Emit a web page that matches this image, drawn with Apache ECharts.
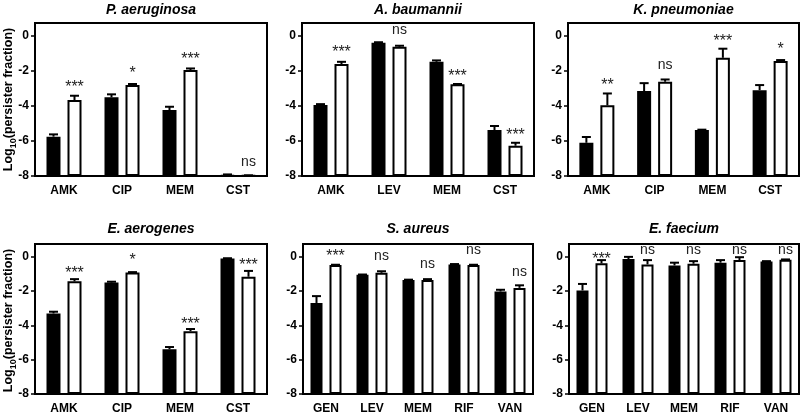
<!DOCTYPE html>
<html><head><meta charset="utf-8">
<script src="https://cdn.jsdelivr.net/npm/echarts@6/dist/echarts.min.js"></script>
<style>html,body{margin:0;padding:0;background:#fff}#c{width:800px;height:415px}</style>
</head><body><div id="c"></div>
<script>
// ---- data (log10 persister fraction; errors are upward SEM) ----
const panelTitles = ['P. aeruginosa', 'A. baumannii', 'K. pneumoniae', 'E. aerogenes', 'S. aureus', 'E. faecium'];
const yTickValues = [-8, -6, -4, -2, 0];

const paCats = ['AMK', 'CIP', 'MEM', 'CST'];
const paBlack = [-5.75, -3.5, -4.23, -7.97];
const paBlackErr = [0.13, 0.17, 0.19, 0.06];
const paWhite = [-3.66, -2.8, -1.94, -7.98];
const paWhiteErr = [0.25, 0.06, 0.09, 0.02];
const paSig = ['***', '*', '***', 'ns'];
const paSigY = [-2.7, -1.94, -1.14, -7.24];

const abCats = ['AMK', 'LEV', 'MEM', 'CST'];
const abBlack = [-3.94, -0.38, -1.47, -5.37];
const abBlackErr = [0.05, 0.03, 0.08, 0.23];
const abWhite = [-1.6, -0.61, -2.76, -6.27];
const abWhiteErr = [0.13, 0.06, 0.02, 0.17];
const abSig = ['***', 'ns', '***', '***'];
const abSigY = [-0.74, 0.29, -2.08, -5.47];

const kpCats = ['AMK', 'CIP', 'MEM', 'CST'];
const kpBlack = [-6.1, -3.14, -5.37, -3.09];
const kpBlackErr = [0.33, 0.45, 0.02, 0.29];
const kpWhite = [-3.96, -2.61, -1.24, -1.43];
const kpWhiteErr = [0.68, 0.13, 0.52, 0.06];
const kpSig = ['**', 'ns', '***', '*'];
const kpSigY = [-2.61, -1.71, -0.1, -0.57];

const eaCats = ['AMK', 'CIP', 'MEM', 'CST'];
const eaBlack = [-3.3, -1.5, -5.39, -0.1];
const eaBlackErr = [0.1, 0.05, 0.13, 0.02];
const eaWhite = [-1.43, -0.91, -4.34, -1.16];
const eaWhiteErr = [0.13, 0.02, 0.13, 0.34];
const eaSig = ['***', '*', '***', '***'];
const eaSigY = [-0.76, 0.0, -3.71, -0.29];

const saCats = ['GEN', 'LEV', 'MEM', 'RIF', 'VAN'];
const saBlack = [-2.69, -1.05, -1.35, -0.44, -2.02];
const saBlackErr = [0.4, 0.02, 0.02, 0.02, 0.1];
const saWhite = [-0.48, -0.93, -1.35, -0.48, -1.81];
const saWhiteErr = [0.02, 0.09, 0.05, 0.02, 0.15];
const saSig = ['***', 'ns', 'ns', 'ns', 'ns'];
const saSigY = [0.27, 0.0, -0.5, 0.32, -0.97];

const efCats = ['GEN', 'LEV', 'MEM', 'RIF', 'VAN'];
const efBlack = [-1.96, -0.13, -0.5, -0.34, -0.27];
const efBlackErr = [0.38, 0.13, 0.16, 0.15, 0.02];
const efWhite = [-0.38, -0.44, -0.4, -0.19, -0.17];
const efWhiteErr = [0.19, 0.25, 0.15, 0.17, 0.02];
const efSig = ['***', 'ns', 'ns', 'ns', 'ns'];
const efSigY = [0.05, 0.35, 0.35, 0.35, 0.35];

// ---- assemble ----
const panels = [
  {cats: paCats, b: paBlack, be: paBlackErr, w: paWhite, we: paWhiteErr, sig: paSig, sigY: paSigY},
  {cats: abCats, b: abBlack, be: abBlackErr, w: abWhite, we: abWhiteErr, sig: abSig, sigY: abSigY},
  {cats: kpCats, b: kpBlack, be: kpBlackErr, w: kpWhite, we: kpWhiteErr, sig: kpSig, sigY: kpSigY},
  {cats: eaCats, b: eaBlack, be: eaBlackErr, w: eaWhite, we: eaWhiteErr, sig: eaSig, sigY: eaSigY},
  {cats: saCats, b: saBlack, be: saBlackErr, w: saWhite, we: saWhiteErr, sig: saSig, sigY: saSigY},
  {cats: efCats, b: efBlack, be: efBlackErr, w: efWhite, we: efWhiteErr, sig: efSig, sigY: efSigY}
];

const BASE = -8;           // axis floor; bars rise from here
const AX_MAX = 0.75;
const FONT = '"Liberation Sans", Arial, Helvetica, sans-serif';
const layouts = [
  {left: 35, top: 23, width: 232, height: 153, bw: 14, gap: 7},
  {left: 302, top: 23, width: 232, height: 153, bw: 14, gap: 7},
  {left: 568, top: 23, width: 231, height: 153, bw: 14, gap: 7},
  {left: 35, top: 244, width: 232, height: 153, bw: 14, gap: 7},
  {left: 303, top: 244, width: 230, height: 153, bw: 12, gap: 7},
  {left: 569, top: 244, width: 230, height: 153, bw: 12, gap: 7}
];

const grid = [], xAxis = [], yAxis = [], series = [], graphic = [];
const off = v => +(v - BASE).toFixed(4);

panels.forEach((p, i) => {
  const L = layouts[i];
  grid.push({left: L.left, top: L.top, width: L.width, height: L.height, show: true,
    borderColor: '#000', borderWidth: 2, backgroundColor: 'transparent', containLabel: false});
  xAxis.push({type: 'category', gridIndex: i, data: p.cats,
    axisLine: {lineStyle: {color: '#000', width: 2}},
    axisTick: {alignWithLabel: true, length: 4, lineStyle: {color: '#000', width: 1.5}},
    axisLabel: {margin: 9, fontSize: 12, fontWeight: 'bold', color: '#000', fontFamily: FONT}});
  yAxis.push({type: 'value', gridIndex: i, min: 0, max: AX_MAX - BASE, interval: 2,
    splitLine: {show: false},
    axisLine: {show: true, lineStyle: {color: '#000', width: 2}},
    axisTick: {show: true, length: 4, lineStyle: {color: '#000', width: 1.5},
      customValues: yTickValues.map(off)},
    axisLabel: {margin: 6, fontSize: 12, fontWeight: 'bold', color: '#000', fontFamily: FONT,
      customValues: yTickValues.map(off),
      formatter: v => (Math.abs(v % 2) < 1e-6 ? String(Math.round(v + BASE)) : '')}});
  const gapPct = (L.gap / L.bw * 100).toFixed(2) + '%';
  series.push({type: 'bar', xAxisIndex: i, yAxisIndex: i, barWidth: L.bw, barGap: gapPct,
    data: p.b.map(off), itemStyle: {color: '#000', borderColor: '#000', borderWidth: 2}, z: 2});
  series.push({type: 'bar', xAxisIndex: i, yAxisIndex: i, barWidth: L.bw, barGap: gapPct,
    data: p.w.map(off), itemStyle: {color: '#fff', borderColor: '#000', borderWidth: 2}, z: 2});
  const dx = (L.bw + L.gap) / 2;
  const errData = [];
  p.b.forEach((v, k) => errData.push([k, off(v), off(v + p.be[k]), 0]));
  p.w.forEach((v, k) => errData.push([k, off(v), off(v + p.we[k]), 1]));
  series.push({type: 'custom', xAxisIndex: i, yAxisIndex: i, z: 3, data: errData,
    renderItem: (params, api) => {
      const c = api.value(0), side = api.value(3);
      const p0 = api.coord([c, api.value(1)]), p1 = api.coord([c, api.value(2)]);
      const x = p0[0] + (side ? dx : -dx), cap = 4.5;
      return {type: 'group', children: [
        {type: 'line', shape: {x1: x, y1: p0[1], x2: x, y2: p1[1]}, style: {stroke: '#000', lineWidth: 2}},
        {type: 'line', shape: {x1: x - cap, y1: p1[1], x2: x + cap, y2: p1[1]}, style: {stroke: '#000', lineWidth: 2}}
      ]};
    }});
  series.push({type: 'custom', xAxisIndex: i, yAxisIndex: i, z: 4,
    data: p.sig.map((s, k) => [k, off(p.sigY[k])]),
    renderItem: (params, api) => {
      const s = p.sig[params.dataIndex];
      const pt = api.coord([api.value(0), api.value(1)]);
      const star = s !== 'ns';
      return {type: 'text', x: pt[0] + dx, y: pt[1] + (star ? 4 : -1),
        style: {text: s, fontSize: star ? 16 : 14, fontFamily: FONT, fill: '#222',
          align: 'center', verticalAlign: 'middle'}};
    }});
  graphic.push({type: 'text', x: L.left + L.width / 2, y: L.top - (i < 3 ? 20 : 22),
    style: {text: panelTitles[i], font: 'italic bold 14px ' + FONT, fill: '#000',
      align: 'center', verticalAlign: 'top'}});
  if (L.left < 100) {
    graphic.push({type: 'text', x: 9, y: L.top + L.height / 2, rotation: Math.PI / 2,
      style: {text: 'Log{sub|10}(persister fraction)', fontSize: 12.5, fontWeight: 'bold',
        fontFamily: FONT, fill: '#000', align: 'center', verticalAlign: 'middle', lineHeight: 18,
        rich: {sub: {fontSize: 9, fontWeight: 'bold', fontFamily: FONT, lineHeight: 9, verticalAlign: 'bottom'}}}});
  }
});

const chart = echarts.init(document.getElementById('c'), null, {renderer: 'canvas'});
chart.setOption({animation: false, backgroundColor: '#fff', grid, xAxis, yAxis, series, graphic});
</script>
</body></html>
